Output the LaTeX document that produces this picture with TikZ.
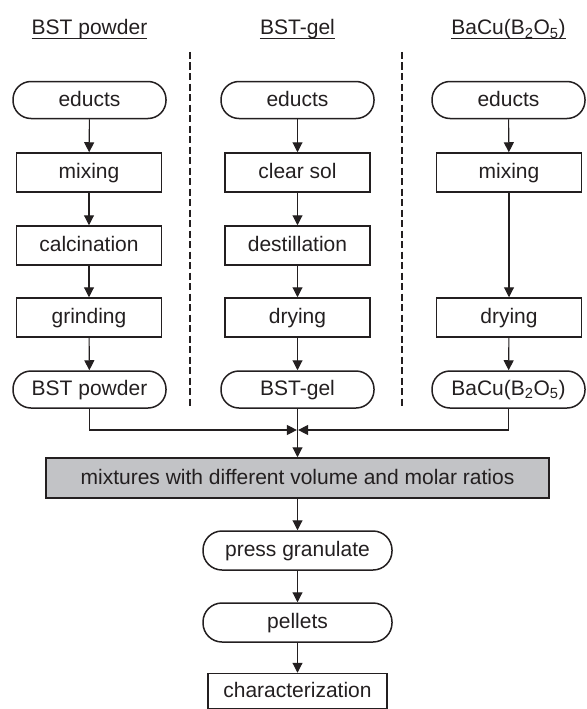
\documentclass[tikz,border=0pt]{standalone}
\usepackage{fontspec}
\setmainfont{Liberation Sans}
\usetikzlibrary{arrows.meta}
\definecolor{ink}{HTML}{231F20}
\definecolor{boxgray}{RGB}{194,195,198}
\begin{document}
\begin{tikzpicture}[x=1pt,y=-1pt,
  every node/.style={font=\fontsize{21}{25}\selectfont, text=ink},
  base/.style={draw=ink, line width=1.5pt, align=center, inner sep=0pt, text height=16pt, text depth=4pt},
  rbox/.style={base, rounded corners=18pt, minimum width=153pt, minimum height=37pt},
  sbox/.style={base, minimum width=145pt, minimum height=39pt},
  wbox/.style={base, rounded corners=19pt, minimum width=189pt, minimum height=39pt},
  graybox/.style={base, fill=boxgray, minimum width=503pt, minimum height=40pt},
  charbox/.style={base, minimum width=179pt, minimum height=35pt},
  title/.style={inner sep=0pt, anchor=base},
  uline/.style={draw=ink, line width=0.9pt},
  sep/.style={draw=ink, line width=1.2pt, dash pattern=on 7pt off 3.5pt},
  conn/.style={draw=ink, line width=1.1pt, -{Triangle[length=10pt,width=10pt]}}]
\useasboundingbox (0,0) rectangle (586,709);

% titles
\node[title] (tL) at (89.5,35) {BST powder};
\node[title] (tM) at (297.5,35) {BST-gel};
\node[title] (tR) at (508.5,35) {BaCu(B\textsubscript{2}O\textsubscript{5})};
\foreach \t in {tL,tM,tR}
  \draw[uline] ([yshift=-3pt]\t.base west) -- ([yshift=-3pt]\t.base east);

% separators
\coordinate (s1a) at (190,52); \coordinate (s1b) at (190,406);
\coordinate (s2a) at (402,52); \coordinate (s2b) at (402,406);
\draw[sep] (s1a) -- (s1b);
\draw[sep] (s2a) -- (s2b);

% left column
\node[rbox] (L1) at (89.5,100) {educts};
\node[sbox] (L2) at (89,172.5) {mixing};
\node[sbox] (L3) at (89,245.5) {calcination};
\node[sbox] (L4) at (89,317.5) {grinding};
\node[rbox] (L5) at (89.5,389.5) {BST powder};

% middle column
\node[rbox] (M1) at (297.5,100) {educts};
\node[sbox] (M2) at (297.5,172.5) {clear sol};
\node[sbox] (M3) at (297.5,245.5) {destillation};
\node[sbox] (M4) at (297.5,317.5) {drying};
\node[rbox] (M5) at (297.5,389.5) {BST-gel};

% right column
\node[rbox] (R1) at (508.5,100) {educts};
\node[sbox] (R2) at (509,172.5) {mixing};
\node[sbox] (R4) at (509,317.5) {drying};
\node[rbox] (R5) at (508.5,389.5) {BaCu(B\textsubscript{2}O\textsubscript{5})};

% bottom chain
\node[graybox] (MX) at (297.5,478) {mixtures with different volume and molar ratios};
\node[wbox] (PG) at (297.5,550.5) {press granulate};
\node[wbox] (PE) at (297.5,622.5) {pellets};
\node[charbox] (CH) at (297.5,691) {characterization};

% connectors
\draw[conn] (L1) -- (L2);
\draw[conn] (L2) -- (L3);
\draw[conn] (L3) -- (L4);
\draw[conn] (L4) -- (L5);
\draw[conn] (M1) -- (M2);
\draw[conn] (M2) -- (M3);
\draw[conn] (M3) -- (M4);
\draw[conn] (M4) -- (M5);
\draw[conn] (R1) -- (R2);
\draw[conn] (R2) -- (R4);
\draw[conn] (R4) -- (R5);

\coordinate (JL) at (296.9,430);
\coordinate (JR) at (298.1,430);
\draw[conn] (L5.south) |- (JL);
\draw[conn] (R5.south) |- (JR);
\draw[conn] (M5) -- (MX);
\draw[conn] (MX) -- (PG);
\draw[conn] (PG) -- (PE);
\draw[conn] (PE) -- (CH);
\end{tikzpicture}
\end{document}
